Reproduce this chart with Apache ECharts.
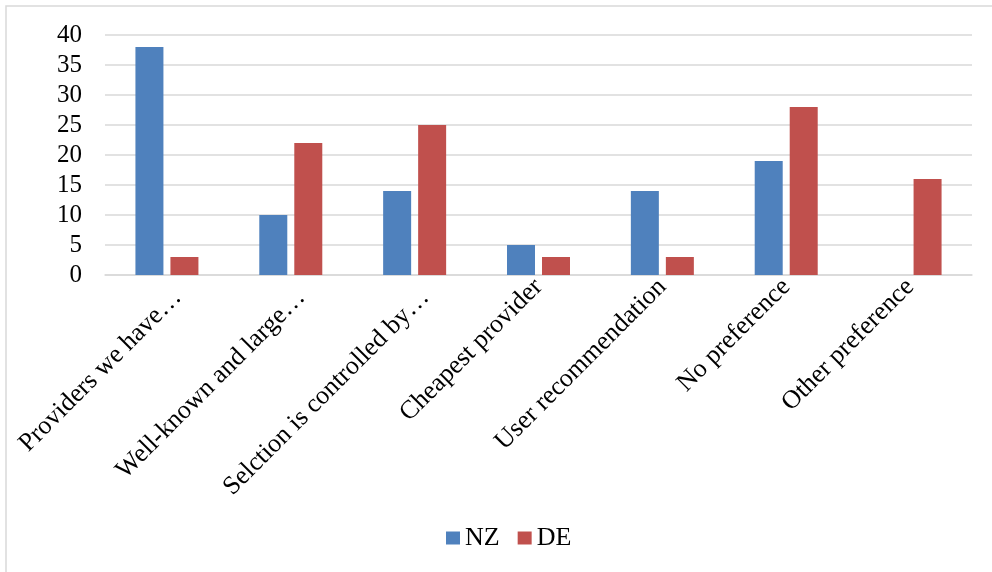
<!DOCTYPE html>
<html>
<head>
<meta charset="utf-8">
<script src="https://cdn.jsdelivr.net/npm/echarts@6/dist/echarts.min.js"></script>
<style>
html,body{margin:0;padding:0;background:#fff;}
#c{width:992px;height:572px;}
</style>
</head>
<body>
<div id="c"></div>
<script>
const categories = ["Providers we have…", "Well-known and large…", "Selction is controlled by…", "Cheapest provider", "User recommendation", "No preference", "Other preference"];
const nzValues = [38, 10, 14, 5, 14, 19, 0];
const deValues = [3, 22, 25, 3, 3, 28, 16];
const seriesNames = ["NZ", "DE"];

const chart = echarts.init(document.getElementById('c'));
const font = '"Liberation Serif", "Times New Roman", serif';
chart.setOption({
  animation: false,
  textStyle: { fontFamily: font },
  graphic: [{
    type: 'rect',
    shape: { x: 6, y: 6, width: 1000, height: 600 },
    style: { fill: 'none', stroke: '#D9D9D9', lineWidth: 1.5 },
    silent: true
  }],
  grid: { left: 105, right: 20, top: 35, bottom: 297, containLabel: false },
  legend: {
    top: 520,
    left: 441,
    itemWidth: 14,
    itemHeight: 13,
    itemGap: 18,
    icon: 'rect',
    textStyle: { fontFamily: font, fontSize: 26, color: '#000', padding: [0, 0, 0, 0] },
    data: seriesNames
  },
  xAxis: {
    type: 'category',
    data: categories,
    axisLine: { lineStyle: { color: '#D9D9D9', width: 1.5 } },
    axisTick: { show: false },
    axisLabel: {
      rotate: 45, interval: 0, fontFamily: font, fontSize: 26, color: '#000', margin: 8,
      formatter: function (v) { return v.indexOf('…') >= 0 ? '{s|' + v + '}' : v; },
      rich: { s: { fontFamily: font, fontSize: 26, color: '#000', padding: [30, 0, 0, 0] } }
    }
  },
  yAxis: {
    type: 'value',
    min: 0,
    max: 40,
    interval: 5,
    axisLine: { show: false },
    axisTick: { show: false },
    splitLine: { lineStyle: { color: '#D9D9D9', width: 1.5 } },
    axisLabel: { fontFamily: font, fontSize: 25, color: '#000', margin: 23 }
  },
  series: [
    { name: seriesNames[0], type: 'bar', data: nzValues, barWidth: 28, barGap: '25%',
      itemStyle: { color: '#4F81BD' } },
    { name: seriesNames[1], type: 'bar', data: deValues, barWidth: 28,
      itemStyle: { color: '#C0504D' } }
  ]
});
</script>
</body>
</html>
